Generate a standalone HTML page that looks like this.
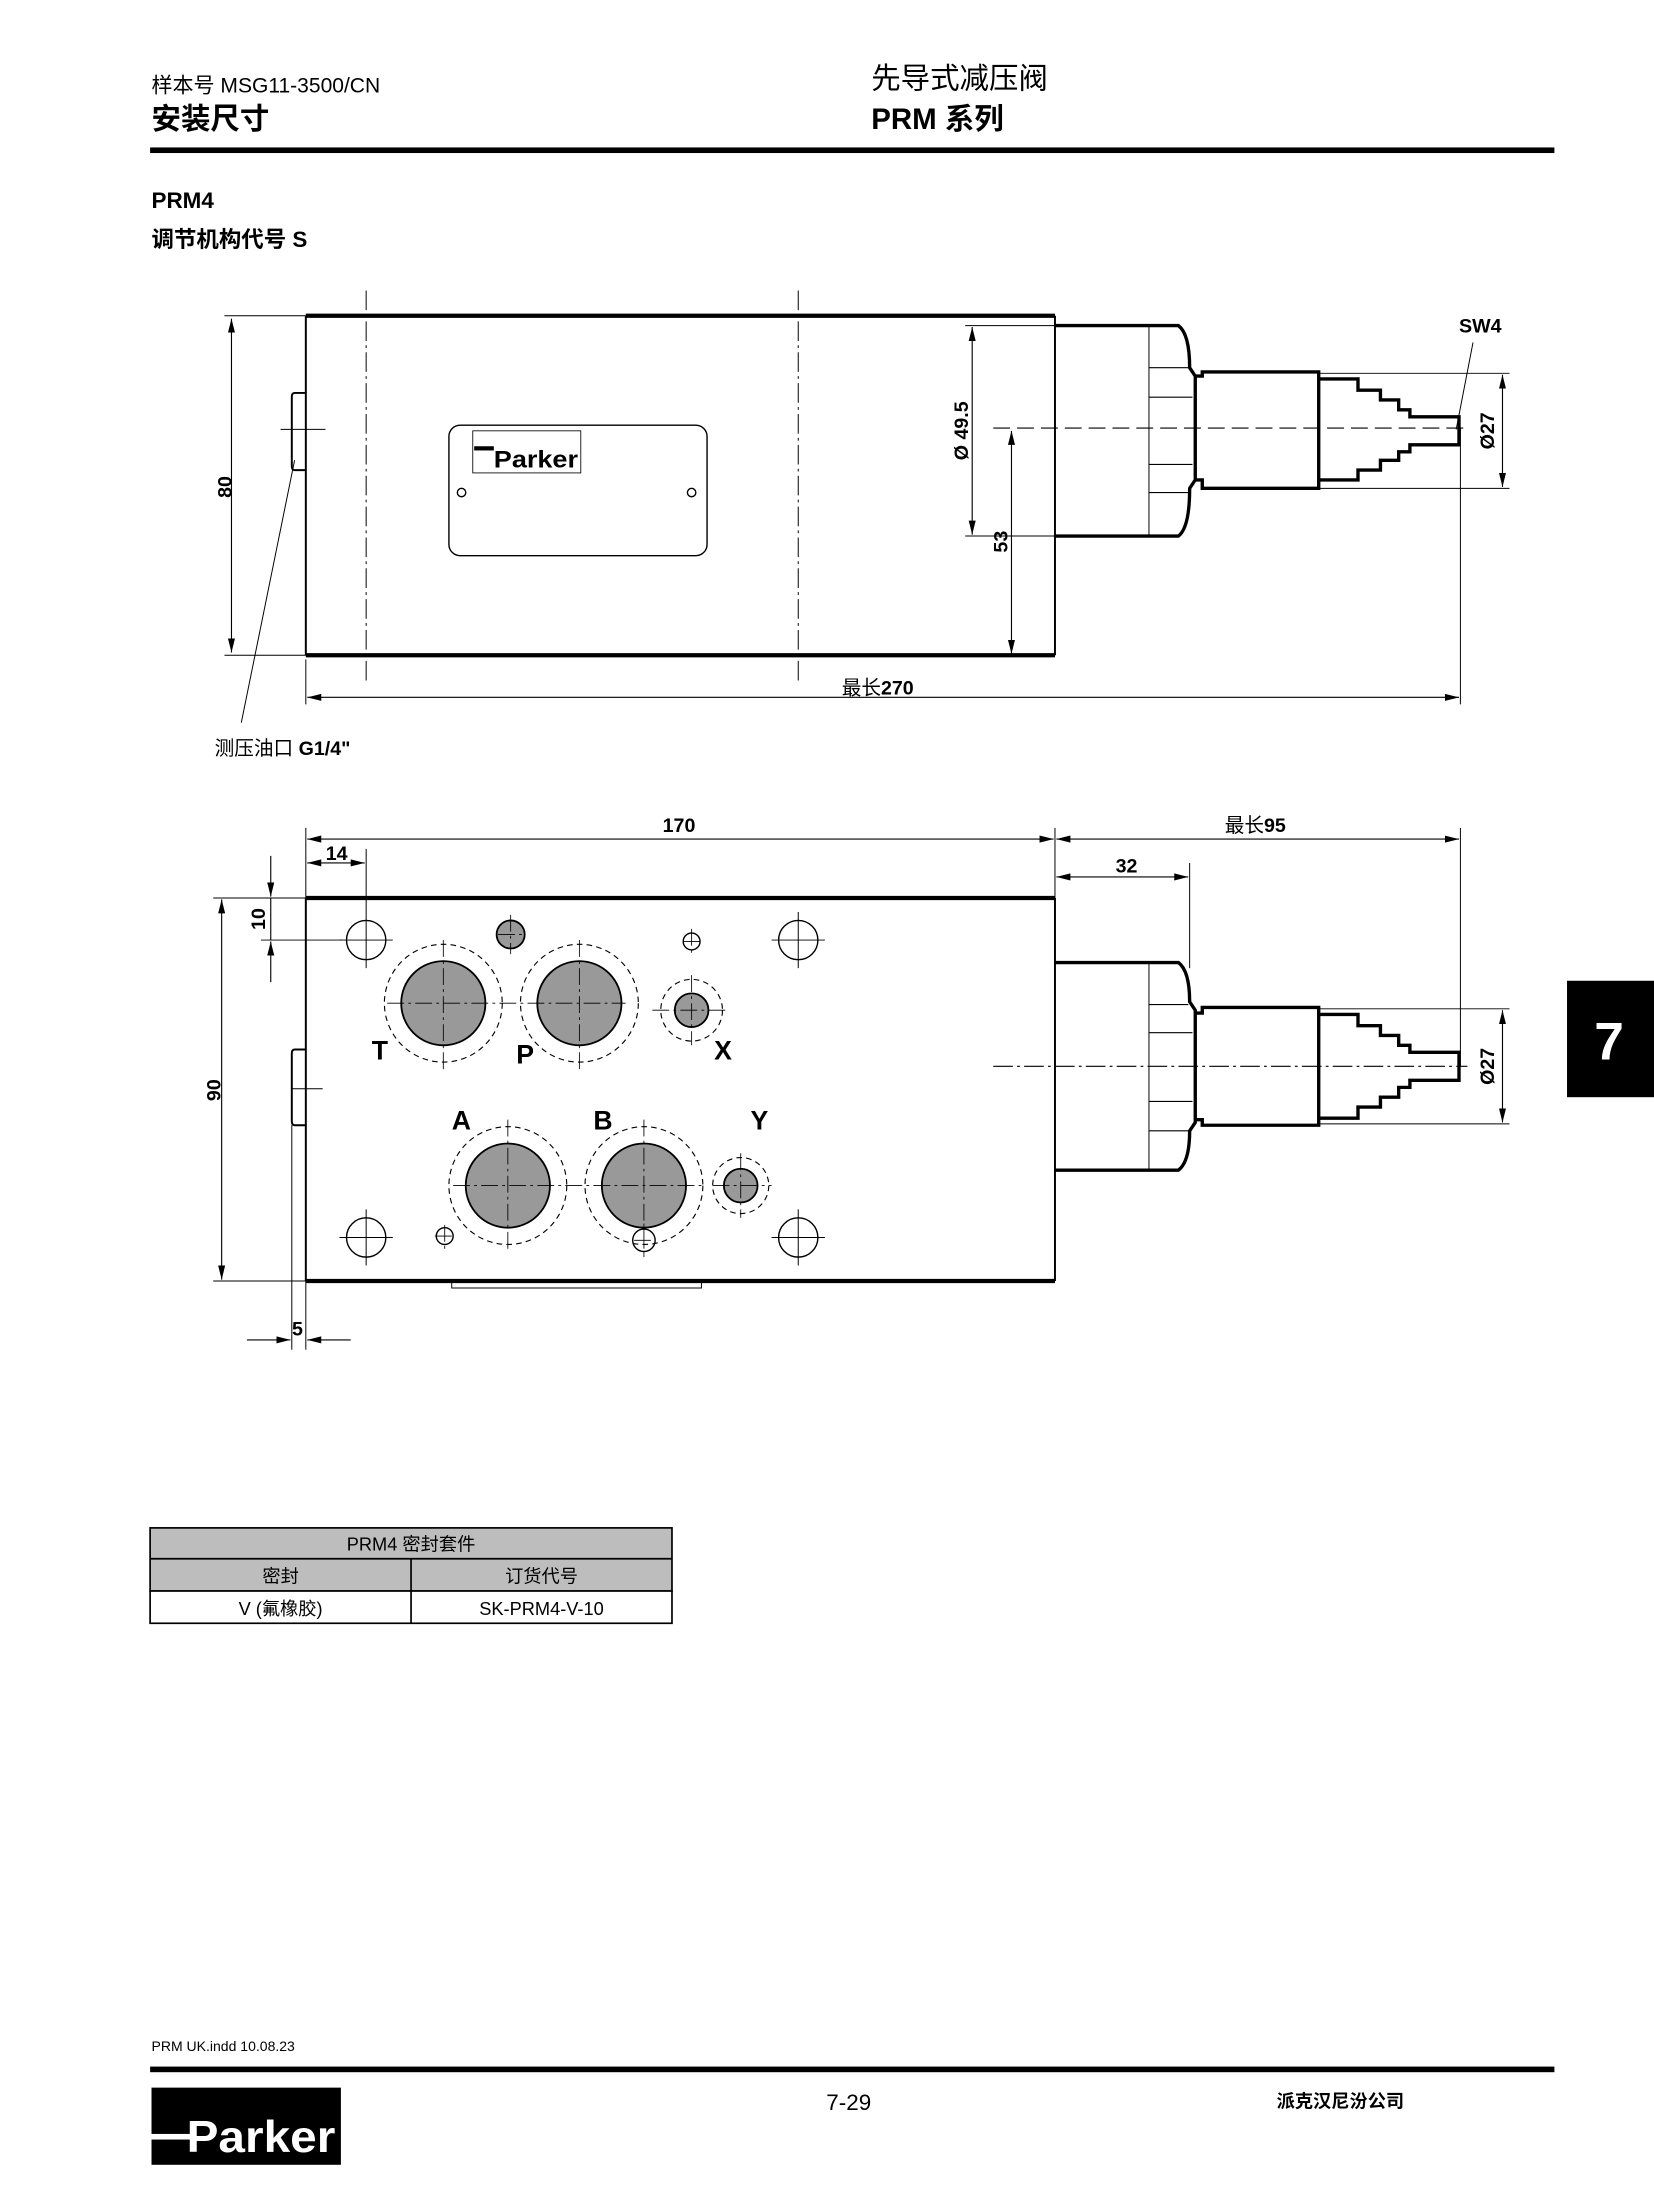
<!DOCTYPE html>
<html><head><meta charset="utf-8"><style>
html,body{margin:0;padding:0;background:#fff;}
svg{display:block;}
text{font-family:"Liberation Sans","Noto Sans CJK SC",sans-serif;fill:#000;}
.b{font-weight:bold;}
</style></head><body>
<svg width="1654" height="2200" viewBox="0 0 1179 1568" xmlns="http://www.w3.org/2000/svg">
<defs>
<marker id="a" viewBox="0 0 10 6" refX="10" refY="3" markerWidth="10" markerHeight="6" orient="auto-start-reverse" markerUnits="userSpaceOnUse"><path d="M0,0.5 L10,3 L0,5.5z" fill="#000"/></marker>
</defs>
<!-- header -->
<text x="108" y="66" font-size="15">样本号 MSG11-3500/CN</text>
<text x="108" y="92" font-size="21" class="b">安装尺寸</text>
<text x="621" y="63" font-size="21">先导式减压阀</text>
<text x="621" y="92" font-size="21" class="b">PRM 系列</text>
<rect x="107" y="105" width="1001" height="4" fill="#000"/>
<text x="108" y="148" font-size="16" class="b">PRM4</text>
<text x="108" y="176" font-size="16" class="b">调节机构代号 S</text>

<g fill="none" stroke="#000" stroke-width="1">
<!-- ===== TOP VIEW ===== -->
<line x1="261" y1="207" x2="261" y2="488" stroke-dasharray="14,3,2,3" stroke-width="0.7"/>
<line x1="569" y1="207" x2="569" y2="488" stroke-dasharray="14,3,2,3" stroke-width="0.7"/>
<line x1="218" y1="225" x2="218" y2="467" stroke-width="1.4"/>
<line x1="752" y1="225" x2="752" y2="467" stroke-width="1.4"/>
<line x1="218" y1="225" x2="752" y2="225" stroke-width="3"/>
<line x1="218" y1="467" x2="752" y2="467" stroke-width="3"/>
<path d="M218,280 H210 Q208,280 208,283 V332 Q208,335 210,335 H218" stroke-width="1.4"/>
<line x1="200" y1="306" x2="232" y2="306" stroke-width="0.7"/>
<rect x="320" y="303" width="184" height="93" rx="8"/>
<rect x="337" y="307" width="77" height="30" stroke-width="0.6"/>
<circle cx="329" cy="351" r="3"/><circle cx="493" cy="351" r="3"/>
<!-- extension -->
<path d="M752,232 H840 Q848,238 848,262 L852,268 V342 L848,348 Q848,376 840,382 H752" stroke-width="2.4"/>
<path d="M819,232 V382" stroke-width="0.7"/>
<path d="M819,262 H847 M819,283 H850 M819,331 H850 M819,351 H847" stroke-width="0.8"/>
<path d="M852,268 H857 V265 H940 V348 H857 V342 H852" stroke-width="2.4" fill="none"/>
<path d="M940,270 H968 V278 H984 V285 H997 V292 H1005 V297 H1040 V317 H1005 V322 H997 V328 H984 V335 H968 V342 H940" stroke-width="2.4"/>
<line x1="708" y1="305" x2="1046" y2="305" stroke-dasharray="12,5" stroke-width="0.8"/>
<!-- dims top -->
<line x1="160" y1="225" x2="218" y2="225" stroke-width="0.7"/>
<line x1="160" y1="467" x2="218" y2="467" stroke-width="0.7"/>
<line x1="165" y1="227" x2="165" y2="465" marker-start="url(#a)" marker-end="url(#a)" stroke-width="0.8"/>
<line x1="688" y1="232" x2="752" y2="232" stroke-width="0.7"/>
<line x1="688" y1="382" x2="752" y2="382" stroke-width="0.7"/>
<line x1="693" y1="233" x2="693" y2="381" marker-start="url(#a)" marker-end="url(#a)" stroke-width="0.8"/>
<line x1="721" y1="307" x2="721" y2="466" marker-start="url(#a)" marker-end="url(#a)" stroke-width="0.8"/>
<line x1="218" y1="470" x2="218" y2="502" stroke-width="0.7"/>
<line x1="1041" y1="305" x2="1041" y2="502" stroke-width="0.7"/>
<line x1="219" y1="497" x2="1040" y2="497" marker-start="url(#a)" marker-end="url(#a)" stroke-width="0.8"/>
<line x1="940" y1="266" x2="1076" y2="266" stroke-width="0.7"/>
<line x1="940" y1="348" x2="1076" y2="348" stroke-width="0.7"/>
<line x1="1071" y1="267" x2="1071" y2="347" marker-start="url(#a)" marker-end="url(#a)" stroke-width="0.8"/>
<line x1="1050" y1="244" x2="1038" y2="306" stroke-width="0.7"/>
<line x1="210" y1="328" x2="172" y2="515" stroke-width="0.7"/>

<!-- ===== BOTTOM VIEW ===== -->
<line x1="218" y1="640" x2="218" y2="913" stroke-width="1.4"/>
<line x1="752" y1="640" x2="752" y2="913" stroke-width="1.4"/>
<line x1="218" y1="640" x2="752" y2="640" stroke-width="3"/>
<line x1="218" y1="913" x2="752" y2="913" stroke-width="3"/>
<path d="M218,748 H210 Q208,748 208,751 V799 Q208,802 210,802 H218" stroke-width="1.4"/>
<line x1="208" y1="776" x2="230" y2="776" stroke-width="0.7"/>
<path d="M322,913 V918 H500 V913" stroke-width="0.7"/>
<!-- extension -->
<path d="M752,686 H840 Q848,692 848,714 L852,720 V800 L848,806 Q848,828 840,834 H752" stroke-width="2.4"/>
<path d="M819,686 V834" stroke-width="0.7"/>
<path d="M819,716 H847 M819,736 H850 M819,785 H850 M819,806 H847" stroke-width="0.8"/>
<path d="M852,722 H857 V718 H940 V802 H857 V798 H852" stroke-width="2.4"/>
<path d="M940,723 H968 V731 H984 V738 H997 V745 H1005 V750 H1040 V770 H1005 V775 H997 V782 H984 V789 H968 V797 H940" stroke-width="2.4"/>
<line x1="708" y1="760" x2="1046" y2="760" stroke-dasharray="14,3,2,3" stroke-width="0.8"/>
<!-- holes -->
<g stroke-width="1">
<circle cx="261" cy="670" r="14" fill="#fff"/><circle cx="569" cy="670" r="14" fill="#fff"/>
<circle cx="261" cy="882" r="14" fill="#fff"/><circle cx="569" cy="882" r="14" fill="#fff"/>
</g>
<g stroke-width="0.7">
<path d="M242,670 H280 M261,650 V690 M550,670 H588 M569,650 V690 M242,882 H280 M261,862 V902 M550,882 H588 M569,862 V902"/>
</g>
<g stroke-dasharray="4,3" stroke-width="0.8">
<circle cx="316" cy="715" r="42"/><circle cx="413" cy="715" r="42"/>
<circle cx="493" cy="720" r="22"/>
<circle cx="362" cy="845" r="42"/><circle cx="459" cy="845" r="42"/>
<circle cx="528" cy="845" r="20"/>
</g>
<g fill="#999" stroke-width="1.3">
<circle cx="316" cy="715" r="30"/><circle cx="413" cy="715" r="30"/>
<circle cx="493" cy="720" r="12"/>
<circle cx="362" cy="845" r="30"/><circle cx="459" cy="845" r="30"/>
<circle cx="528" cy="845" r="12"/>
<circle cx="364" cy="666" r="10"/>
</g>
<circle cx="493" cy="671" r="6"/><circle cx="317" cy="881" r="6"/><circle cx="459" cy="884" r="8"/>
<g stroke-width="0.6" stroke-dasharray="12,3,2,3">
<path d="M276,715 H446 M316,670 V762 M413,670 V762 M465,720 H520 M493,695 V745 M323,845 H500 M362,798 V892 M459,798 V892 M508,845 H550 M528,822 V868 M355,666 H374 M364,652 V680 M487,671 H500 M493,662 V680 M310,881 H324 M317,873 V890 M452,884 H467 M459,872 V896"/>
</g>
<!-- dims bottom -->
<line x1="218" y1="590" x2="218" y2="640" stroke-width="0.7"/>
<line x1="752" y1="590" x2="752" y2="686" stroke-width="0.7"/>
<line x1="848" y1="615" x2="848" y2="690" stroke-width="0.7"/>
<line x1="1041" y1="590" x2="1041" y2="760" stroke-width="0.7"/>
<line x1="261" y1="605" x2="261" y2="650" stroke-width="0.7"/>
<line x1="219" y1="598" x2="751" y2="598" marker-start="url(#a)" marker-end="url(#a)" stroke-width="0.8"/>
<line x1="753" y1="598" x2="1040" y2="598" marker-start="url(#a)" marker-end="url(#a)" stroke-width="0.8"/>
<line x1="753" y1="625" x2="847" y2="625" marker-start="url(#a)" marker-end="url(#a)" stroke-width="0.8"/>
<line x1="219" y1="615" x2="260" y2="615" marker-start="url(#a)" marker-end="url(#a)" stroke-width="0.8"/>
<line x1="152" y1="640" x2="218" y2="640" stroke-width="0.7"/>
<line x1="152" y1="913" x2="218" y2="913" stroke-width="0.7"/>
<line x1="158" y1="641" x2="158" y2="912" marker-start="url(#a)" marker-end="url(#a)" stroke-width="0.8"/>
<line x1="186" y1="670" x2="244" y2="670" stroke-width="0.7"/>
<line x1="193" y1="610" x2="193" y2="639" marker-end="url(#a)" stroke-width="0.8"/>
<line x1="193" y1="700" x2="193" y2="671" marker-end="url(#a)" stroke-width="0.8"/>
<line x1="193" y1="640" x2="193" y2="670" stroke-width="0.8"/>
<line x1="208" y1="802" x2="208" y2="962" stroke-width="0.7"/>
<line x1="218" y1="913" x2="218" y2="962" stroke-width="0.7"/>
<line x1="176" y1="955" x2="207" y2="955" marker-end="url(#a)" stroke-width="0.8"/>
<line x1="250" y1="955" x2="219" y2="955" marker-end="url(#a)" stroke-width="0.8"/>
<line x1="940" y1="719" x2="1076" y2="719" stroke-width="0.7"/>
<line x1="940" y1="801" x2="1076" y2="801" stroke-width="0.7"/>
<line x1="1071" y1="720" x2="1071" y2="800" marker-start="url(#a)" marker-end="url(#a)" stroke-width="0.8"/>
</g>

<!-- parker nameplate logo -->
<rect x="338" y="318" width="14" height="3" fill="#000"/>
<text x="352" y="333" font-size="17" class="b" textLength="60" lengthAdjust="spacingAndGlyphs">Parker</text>

<!-- dim labels -->
<g font-size="14" class="b">
<text transform="translate(165,347) rotate(-90)" text-anchor="middle">80</text>
<text transform="translate(690,307) rotate(-90)" text-anchor="middle">Ø 49.5</text>
<text transform="translate(718,386) rotate(-90)" text-anchor="middle">53</text>
<text transform="translate(1065,307) rotate(-90)" text-anchor="middle">Ø27</text>
<text x="1040" y="237">SW4</text>
<text x="600" y="495"><tspan font-weight="normal">最长</tspan>270</text>
<text x="153" y="538" font-size="14"><tspan font-weight="normal">测压油口</tspan>  G1/4"</text>
<text x="484" y="593" text-anchor="middle">170</text>
<text x="873" y="593"><tspan font-weight="normal">最长</tspan>95</text>
<text x="803" y="622" text-anchor="middle">32</text>
<text x="240" y="613" text-anchor="middle">14</text>
<text transform="translate(189,655) rotate(-90)" text-anchor="middle">10</text>
<text transform="translate(157,777) rotate(-90)" text-anchor="middle">90</text>
<text x="212" y="952" text-anchor="middle">5</text>
<text transform="translate(1065,760) rotate(-90)" text-anchor="middle">Ø27</text>
</g>
<g font-size="19" class="b">
<text x="265" y="755">T</text><text x="368" y="758">P</text><text x="509" y="755">X</text>
<text x="322" y="805">A</text><text x="423" y="805">B</text><text x="535" y="805">Y</text>
</g>

<!-- tab -->
<rect x="1117" y="699" width="62" height="83" fill="#000"/>
<text x="1147" y="755" font-size="38" class="b" style="fill:#fff" text-anchor="middle">7</text>

<!-- table -->
<g stroke="#000" stroke-width="1.2">
<rect x="107" y="1089" width="372" height="45" fill="#bdbdbd"/>
<rect x="107" y="1134" width="372" height="23" fill="#fff"/>
<line x1="107" y1="1111" x2="479" y2="1111"/>
<line x1="293" y1="1111" x2="293" y2="1157"/>
</g>
<g font-size="13" text-anchor="middle">
<text x="293" y="1105">PRM4 密封套件</text>
<text x="200" y="1128">密封</text><text x="386" y="1128">订货代号</text>
<text x="200" y="1151">V (氟橡胶)</text><text x="386" y="1151">SK-PRM4-V-10</text>
</g>

<!-- footer -->
<text x="108" y="1462" font-size="10">PRM UK.indd 10.08.23</text>
<rect x="107" y="1473" width="1001" height="4" fill="#000"/>
<text x="589" y="1504" font-size="16">7-29</text>
<text x="910" y="1502" font-size="13" class="b">派克汉尼汾公司</text>
<rect x="108" y="1488" width="135" height="55" fill="#000"/>
<rect x="108" y="1521" width="28" height="4" fill="#fff"/>
<text x="133" y="1534" font-size="32" class="b" style="fill:#fff" textLength="106" lengthAdjust="spacingAndGlyphs">Parker</text>
</svg>
</body></html>
